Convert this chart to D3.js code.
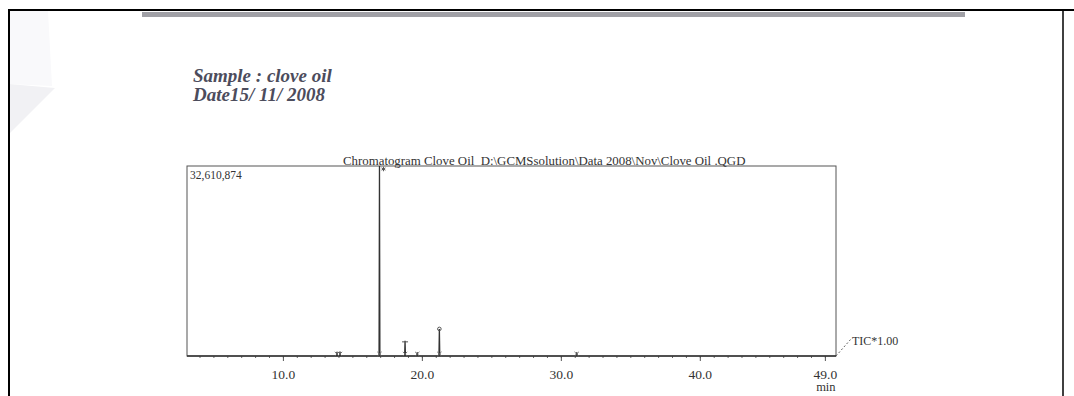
<!DOCTYPE html>
<html>
<head>
<meta charset="utf-8">
<script src="https://cdn.jsdelivr.net/npm/d3@7"></script>
<style>
  body { margin: 0; background: #fff; }
  svg { display: block; }
</style>
</head>
<body>
<div class="chromatogram"></div>
<script>
// retention times (min) and intensities
const peakTimes   = [13.89, 14.11, 16.95, 18.79, 19.67, 21.26, 31.14];
const peakHeights = [700000, 760000, 32610874, 2600000, 650000, 4650000, 640000];
const majorTicks  = [10, 20, 30, 40, 49];
const minorTicks  = d3.range(4, 50);
const yMaxLabel   = "32,610,874";
const sampleLines = ["Sample : clove oil", "Date15/ 11/ 2008"];
const titleText   = "Chromatogram Clove Oil  D:\\GCMSsolution\\Data 2008\\Nov\\Clove Oil .QGD";

const width = 1074, height = 396;
const box = {left: 187, top: 166, right: 836, bottom: 356};

const x = d3.scaleLinear().domain([3.1, 49.8]).range([box.left, box.right]);
const y = d3.scaleLinear().domain([0, 32610874]).range([box.bottom, box.top]);

const svg = d3.select(".chromatogram")
  .append("svg")
    .attr("width", width)
    .attr("height", height)
    .attr("font-family", "'Liberation Serif', 'DejaVu Serif', serif");

svg.append("rect").attr("width", width).attr("height", height).attr("fill", "#fff");

// scan artefacts: faint shadow on the left, grey strip at the top
svg.append("path")
    .attr("d", "M9,11 L48,11 L52,86 L9,84 Z")
    .attr("fill", "#f9f9fb");
svg.append("path")
    .attr("d", "M9,84 L55,88 L9,134 Z")
    .attr("fill", "#f1f1f4");
svg.append("rect")
    .attr("x", 142).attr("y", 12).attr("width", 823).attr("height", 5)
    .attr("fill", "#a0a0a6");

// page frame
svg.append("path")
    .attr("d", `M9,${height} L9,10 L${width},10`)
    .attr("fill", "none").attr("stroke", "#000").attr("stroke-width", 2);
svg.append("line")
    .attr("x1", 1063).attr("x2", 1063).attr("y1", 10).attr("y2", height)
    .attr("stroke", "#000").attr("stroke-width", 1.5);

// sample header
svg.append("g")
    .attr("fill", "#4c4c5c")
    .attr("font-weight", "bold")
    .attr("font-style", "italic")
    .attr("font-size", 19)
  .selectAll("text")
  .data(sampleLines)
  .join("text")
    .attr("x", 193)
    .attr("y", (d, i) => 82 + i * 19)
    .text(d => d);

// title
svg.append("text")
    .attr("x", 343).attr("y", 164.5)
    .attr("font-size", 12.85)
    .attr("fill", "#333")
    .style("white-space", "pre")
    .text(titleText);

// plot box
svg.append("rect")
    .attr("x", box.left).attr("y", box.top)
    .attr("width", box.right - box.left).attr("height", box.bottom - box.top)
    .attr("fill", "none").attr("stroke", "#555").attr("stroke-width", 1);

svg.append("text")
    .attr("x", box.left + 3).attr("y", box.top + 13)
    .attr("font-size", 11.5)
    .attr("fill", "#333")
    .text(yMaxLabel);

// x axis
const gx = svg.append("g").attr("transform", `translate(0,${box.bottom})`);
gx.append("g")
    .call(d3.axisBottom(x).tickValues(minorTicks).tickSize(2).tickFormat(""))
    .call(g => g.select(".domain").remove())
    .call(g => g.selectAll(".tick line").attr("stroke", "#666"));
gx.append("g")
    .call(d3.axisBottom(x).tickValues(majorTicks).tickSize(5).tickPadding(8).tickFormat(d3.format(".1f")))
    .call(g => g.select(".domain").remove())
    .call(g => g.selectAll(".tick line").attr("stroke", "#555"))
    .call(g => g.selectAll(".tick text")
        .attr("font-family", "'Liberation Serif', serif")
        .attr("font-size", 13.5)
        .attr("fill", "#333"));

svg.append("text")
    .attr("x", x(49) + 1).attr("y", 391)
    .attr("text-anchor", "middle")
    .attr("font-size", 12.5)
    .attr("fill", "#333")
    .text("min");

// chromatogram trace
const peaks = peakTimes.map((t, i) => ({t, h: peakHeights[i]}));
const pts = [[x.domain()[0], 0]];
peaks.forEach(p => pts.push([p.t - 0.03, 0], [p.t, p.h], [p.t + 0.03, 0]));
pts.push([x.domain()[1], 0]);

svg.append("path")
    .datum(pts)
    .attr("fill", "none")
    .attr("stroke", "#333")
    .attr("stroke-width", 1.3)
    .attr("d", d3.line().x(d => x(d[0])).y(d => y(d[1])));

// peak number marks at the tops, integration marks at the base
const tall = peaks.filter(p => p.h > 1000000);
svg.append("g")
    .attr("fill", "none").attr("stroke", "#555").attr("stroke-width", 1)
  .selectAll("path")
  .data(tall)
  .join("path")
    .attr("transform", (d, i) => i === 0
        ? `translate(${x(d.t) + 4},${y(d.h) + 3})`
        : `translate(${x(d.t)},${y(d.h) + (i === 2 ? 0 : 1)})`)
    .attr("d", (d, i) => i === 0 ? d3.symbol(d3.symbolAsterisk, 14)()
        : i === 2 ? d3.symbol(d3.symbolCircle, 10)()
        : "M-3,0H3");

svg.append("g")
    .attr("fill", "none").attr("stroke", "#666").attr("stroke-width", 0.9)
  .selectAll("path")
  .data(peaks)
  .join("path")
    .attr("transform", d => `translate(${x(d.t)},${box.bottom - 2})`)
    .attr("d", d3.symbol(d3.symbolX, 14));

// TIC label
svg.append("line")
    .attr("x1", box.right).attr("y1", box.bottom)
    .attr("x2", box.right + 15).attr("y2", box.bottom - 17)
    .attr("stroke", "#666").attr("stroke-dasharray", "2,2");
svg.append("text")
    .attr("x", 852).attr("y", 345)
    .attr("font-size", 12)
    .attr("fill", "#333")
    .text("TIC*1.00");
</script>
</body>
</html>
